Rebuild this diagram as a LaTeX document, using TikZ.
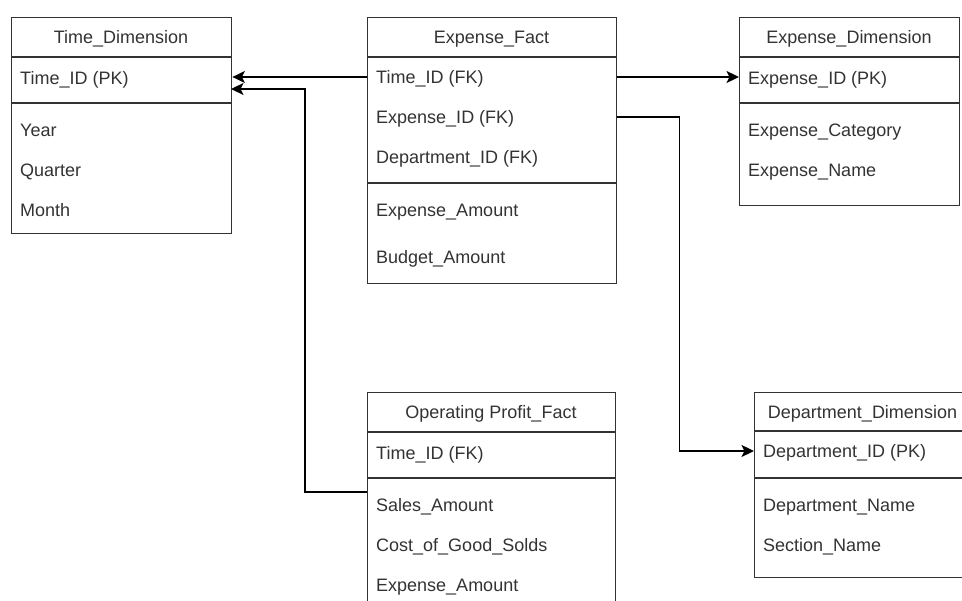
\documentclass[tikz,border=0pt]{standalone}
\usepackage{fontspec}
\setmainfont{Liberation Sans}
\usetikzlibrary{arrows.meta}
\definecolor{ink}{HTML}{333333}
\begin{document}
\begin{tikzpicture}[x=1pt,y=-1pt,
  font=\fontsize{18}{21}\selectfont,
  tbl/.style={draw=ink, line width=1.4pt, fill=white, inner sep=0pt, anchor=north west},
  sep/.style={draw=ink, line width=1.4pt},
  label/.style={text=ink, inner sep=0pt, text height=12.9pt, text depth=0pt},
  field/.style={label, anchor=west},
  link/.style={draw=black, line width=1.3pt},
  arr/.style={link, -{Stealth[length=12.5pt,width=12pt,inset=3pt]}}
]
\clip (0,0) rectangle (962,601);
\fill[white] (0,0) rectangle (962,601);

% Time_Dimension
\node[tbl, minimum width=220pt, minimum height=216pt] (td) at (11,17) {};
\draw[sep] (td.west |- 0,57) -- (td.east |- 0,57);
\draw[sep] (td.west |- 0,103) -- (td.east |- 0,103);
\node[label] (td-title) at (121,37) {Time\_Dimension};
\node[field] (td-pk) at (20,78) {Time\_ID (PK)};
\node[field] (td-year) at (20,130) {Year};
\node[field] (td-quarter) at (20,170) {Quarter};
\node[field] (td-month) at (20,210) {Month};

% Expense_Fact
\node[tbl, minimum width=249pt, minimum height=266pt] (ef) at (367,17) {};
\draw[sep] (ef.west |- 0,57) -- (ef.east |- 0,57);
\draw[sep] (ef.west |- 0,183) -- (ef.east |- 0,183);
\node[label] (ef-title) at (491.5,37) {Expense\_Fact};
\node[field] (ef-time) at (376,77) {Time\_ID (FK)};
\node[field] (ef-exp) at (376,117) {Expense\_ID (FK)};
\node[field] (ef-dept) at (376,157) {Department\_ID (FK)};
\node[field] (ef-amount) at (376,210) {Expense\_Amount};
\node[field] (ef-budget) at (376,257) {Budget\_Amount};

% Expense_Dimension
\node[tbl, minimum width=220pt, minimum height=188pt] (ed) at (739,17) {};
\draw[sep] (ed.west |- 0,57) -- (ed.east |- 0,57);
\draw[sep] (ed.west |- 0,103) -- (ed.east |- 0,103);
\node[label] (ed-title) at (849,37) {Expense\_Dimension};
\node[field] (ed-pk) at (748,78) {Expense\_ID (PK)};
\node[field] (ed-cat) at (748,130) {Expense\_Category};
\node[field] (ed-name) at (748,170) {Expense\_Name};

% Operating Profit_Fact
\node[tbl, minimum width=248pt, minimum height=260pt] (op) at (367,392) {};
\draw[sep] (op.west |- 0,432) -- (op.east |- 0,432);
\draw[sep] (op.west |- 0,478) -- (op.east |- 0,478);
\node[label] (op-title) at (491,412) {Operating Profit\_Fact};
\node[field] (op-time) at (376,453) {Time\_ID (FK)};
\node[field] (op-sales) at (376,505) {Sales\_Amount};
\node[field] (op-cogs) at (376,545) {Cost\_of\_Good\_Solds};
\node[field] (op-amount) at (376,585) {Expense\_Amount};

% Department_Dimension
\node[tbl, minimum width=218pt, minimum height=185pt] (dd) at (754,392) {};
\draw[sep] (dd.west |- 0,431) -- (dd.east |- 0,431);
\draw[sep] (dd.west |- 0,478) -- (dd.east |- 0,478);
\node[label] (dd-title) at (862.5,412) {Department\_Dimension};
\node[field] (dd-pk) at (763,451) {Department\_ID (PK)};
\node[field] (dd-name) at (763,505) {Department\_Name};
\node[field] (dd-section) at (763,545) {Section\_Name};

% Relationships
\coordinate (op-link) at (367,492);
\coordinate (td-in) at (231,89);
\draw[arr] (ef.west |- ef-time) -- (td.east |- ef-time);
\draw[arr] (op-link) -- ++(-62,0) |- (td-in);
\draw[arr] (ef.east |- ef-time) -- (ed.west |- ef-time);
\draw[arr] (ef.east |- ef-exp) -- ++(62,0) |- (dd.west |- dd-pk);
\end{tikzpicture}
\end{document}
